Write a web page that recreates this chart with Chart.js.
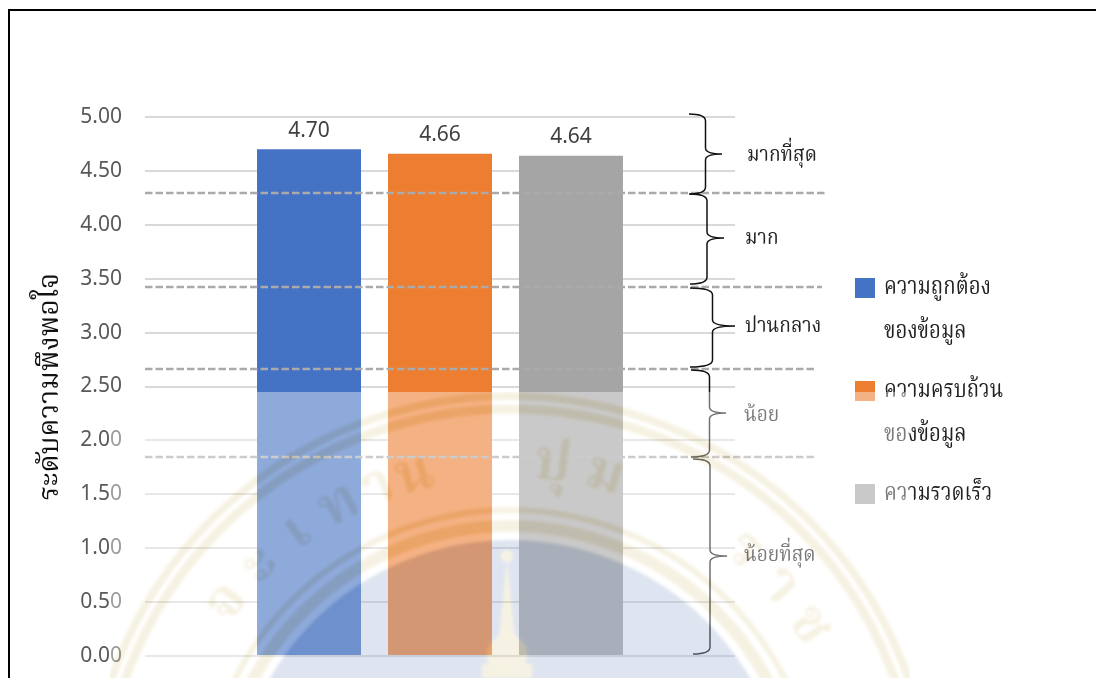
<!DOCTYPE html>
<html>
<head>
<meta charset="utf-8">
<style>
  html, body { margin: 0; padding: 0; background: #fff; overflow: hidden; }
  canvas { display: block; }
</style>
<script src="https://cdn.jsdelivr.net/npm/chart.js@4/dist/chart.umd.min.js"></script>
</head>
<body>
<canvas id="satisfaction" width="1096" height="678"></canvas>
<script>
// Values
const categories = ['ระดับความพึงพอใจ'];
const seriesNames = [['ความถูกต้อง', 'ของข้อมูล'], ['ความครบถ้วน', 'ของข้อมูล'], ['ความรวดเร็ว']];
const seriesValues = [[4.70], [4.66], [4.64]];
const seriesColors = ['#4472C4', '#ED7D31', '#A5A5A5'];
const levelNames = ['มากที่สุด', 'มาก', 'ปานกลาง', 'น้อย', 'น้อยที่สุด'];
const levelCuts = [4.295, 3.42, 2.66, 1.85];
const cutEnds = [827, 822, 817, 814];

const thaiFont = '"Noto Serif Thai", "Noto Sans Thai", "Noto Sans", "DejaVu Sans", serif';

// ── Braces, cut lines, side labels, legend ──────────────────────────────────

const braces = [
  { x: 705.5, left: 689, top: 114, bottom: 194, tipX: 722, tipY: 154, labelX: 747, labelY: 157 },
  { x: 707, left: 690, top: 194, bottom: 284, tipX: 724, tipY: 238, labelX: 745, labelY: 240 },
  { x: 712.5, left: 690, top: 288, bottom: 367, tipX: 735, tipY: 326, labelX: 745, labelY: 328 },
  { x: 709.5, left: 691, top: 370, bottom: 457, tipX: 726, tipY: 413, labelX: 744, labelY: 417 },
  { x: 710, left: 693, top: 459, bottom: 654, tipX: 727, tipY: 556, labelX: 744, labelY: 557 }
];

function drawBrace(ctx, b) {
  ctx.beginPath();
  ctx.moveTo(b.left, b.top);
  ctx.quadraticCurveTo(b.x, b.top, b.x, b.top + 7);
  ctx.lineTo(b.x, b.tipY - 6);
  ctx.quadraticCurveTo(b.x, b.tipY, b.tipX, b.tipY);
  ctx.quadraticCurveTo(b.x, b.tipY, b.x, b.tipY + 6);
  ctx.lineTo(b.x, b.bottom - 7);
  ctx.quadraticCurveTo(b.x, b.bottom, b.left, b.bottom);
  ctx.stroke();
}

// the original Thai face is narrow, so squeeze the fallback a little
function fillNarrow(ctx, text, x, y, squeeze) {
  ctx.save();
  ctx.translate(x, y);
  ctx.scale(squeeze, 1);
  ctx.fillText(text, 0, 0);
  ctx.restore();
}

const annotations = {
  id: 'annotations',
  afterDatasetsDraw(chart) {
    const { ctx, scales } = chart;
    ctx.save();

    // value labels over the bars
    ctx.font = '21px "Noto Sans"';
    ctx.fillStyle = '#404040';
    ctx.textAlign = 'center';
    ctx.textBaseline = 'middle';
    chart.data.datasets.forEach((ds, i) => {
      const bar = chart.getDatasetMeta(i).data[0];
      ctx.fillText(ds.data[0].toFixed(2), bar.x, bar.y - 18.5);
    });

    // dashed level cuts
    ctx.strokeStyle = '#AAAAAA';
    ctx.lineWidth = 2.5;
    ctx.setLineDash([7.5, 3]);
    levelCuts.forEach((cut, i) => {
      const y = Math.round(scales.y.getPixelForValue(cut));
      ctx.beginPath();
      ctx.moveTo(scales.y.right, y);
      ctx.lineTo(cutEnds[i], y);
      ctx.stroke();
    });
    ctx.setLineDash([]);

    // braces and their labels
    ctx.strokeStyle = '#111';
    ctx.lineWidth = 1.5;
    braces.forEach(b => drawBrace(ctx, b));
    ctx.font = '22px ' + thaiFont;
    ctx.fillStyle = '#222';
    ctx.textAlign = 'left';
    levelNames.forEach((name, i) => {
      fillNarrow(ctx, name, braces[i].labelX, braces[i].labelY, 0.87);
    });

    // legend
    const legendTops = [278, 381, 484];
    const lineGap = 44;
    ctx.font = '24px ' + thaiFont;
    seriesNames.forEach((lines, i) => {
      ctx.fillStyle = seriesColors[i];
      ctx.fillRect(855, legendTops[i], 20, 20);
      ctx.fillStyle = '#222';
      lines.forEach((line, k) => {
        fillNarrow(ctx, line, 884, legendTops[i] + 12 + k * lineGap, 0.85);
      });
    });

    ctx.restore();
  }
};

// ── Watermark over the lower part of the page ───────────────────────────────

const sealLetters = ['จ', 'ะ', 'เ', 'ท', 'า', 'น', 'ป', 'ุ', 'ม', 'ร', 'า', 'ช'];
const sealAngles = [-0.92, -0.78, -0.64, -0.5, -0.38, -0.27, 0.12, 0.17, 0.27, 0.72, 0.86, 1.0];

function paintSeal() {
  const off = document.createElement('canvas');
  off.width = 1096;
  off.height = 678;
  const c = off.getContext('2d');
  const cx = 510, cy = 818;
  const gold = 'rgb(9,13,28)';
  const disc = 'rgb(32,26,15)';

  c.fillStyle = '#000';
  c.fillRect(0, 0, 1096, 678);
  c.filter = 'blur(1.5px)';

  c.fillStyle = disc;
  c.beginPath();
  c.arc(cx, cy, 278, 0, Math.PI * 2);
  c.fill();

  c.strokeStyle = gold;
  [[422, 8], [409, 9], [308, 6], [292, 12]].forEach(([r, w]) => {
    c.lineWidth = w;
    c.beginPath();
    c.arc(cx, cy, r, 0, Math.PI * 2);
    c.stroke();
  });

  // spire and crown
  c.fillStyle = gold;
  c.beginPath();
  c.arc(507, 556, 6, 0, Math.PI * 2);
  c.fill();
  c.beginPath();
  c.moveTo(507, 560);
  c.lineTo(499, 640);
  c.lineTo(515, 640);
  c.closePath();
  c.fill();
  c.beginPath();
  c.ellipse(507, 655, 20, 20, 0, 0, Math.PI * 2);
  c.fill();
  c.fillRect(482, 664, 50, 14);

  // ring lettering
  c.font = 'bold 56px ' + thaiFont;
  c.textAlign = 'center';
  c.textBaseline = 'middle';
  sealLetters.forEach((ch, i) => {
    const angle = sealAngles[i];
    c.save();
    c.translate(cx + Math.sin(angle) * 350, cy - Math.cos(angle) * 350);
    c.rotate(angle);
    c.fillText(ch, 0, 0);
    c.restore();
  });
  return off;
}

const watermark = {
  id: 'watermark',
  afterDraw(chart) {
    const { ctx } = chart;
    ctx.save();
    ctx.fillStyle = 'rgba(255,255,255,0.4)';
    ctx.fillRect(110, 392, 800, 286);
    ctx.globalCompositeOperation = 'difference';
    ctx.beginPath();
    ctx.rect(110, 392, 800, 286);
    ctx.clip();
    ctx.drawImage(paintSeal(), 0, 0);
    ctx.restore();
  }
};

// ── Page frame ──────────────────────────────────────────────────────────────

const frame = {
  id: 'frame',
  beforeDraw(chart) {
    const { ctx } = chart;
    ctx.save();
    ctx.fillStyle = '#fff';
    ctx.fillRect(0, 0, 1096, 678);
    ctx.strokeStyle = '#000';
    ctx.lineWidth = 2;
    ctx.beginPath();
    ctx.moveTo(9, 678);
    ctx.lineTo(9, 10);
    ctx.lineTo(1096, 10);
    ctx.stroke();
    ctx.restore();
  }
};

new Chart(document.getElementById('satisfaction').getContext('2d'), {
  type: 'bar',
  data: {
    labels: categories,
    datasets: seriesValues.map((values, i) => ({
      label: seriesNames[i].join(' '),
      data: values,
      backgroundColor: seriesColors[i],
      categoryPercentage: 0.666,
      barPercentage: 0.794
    }))
  },
  plugins: [frame, annotations, watermark],
  options: {
    responsive: false,
    animation: false,
    devicePixelRatio: 1,
    layout: { padding: { top: 117, bottom: 22, left: 0, right: 361 } },
    plugins: { legend: { display: false }, tooltip: { enabled: false } },
    scales: {
      x: { display: false },
      y: {
        min: 0,
        max: 5,
        afterFit(scale) {
          scale.width = 145;
          scale.paddingTop = 0;
          scale.paddingBottom = 0;
        },
        border: { display: false },
        grid: { color: '#D9D9D9', lineWidth: 2, drawTicks: false },
        ticks: {
          stepSize: 0.5,
          padding: 23,
          color: '#595959',
          font: { family: '"Noto Sans"', size: 21 },
          callback: v => v.toFixed(2)
        },
        title: {
          display: true,
          text: 'ระดับความพึงพอใจ',
          color: '#111',
          font: { family: thaiFont, size: 28.5 },
          padding: { top: 36, bottom: 0 }
        }
      }
    }
  }
});
</script>
</body>
</html>
